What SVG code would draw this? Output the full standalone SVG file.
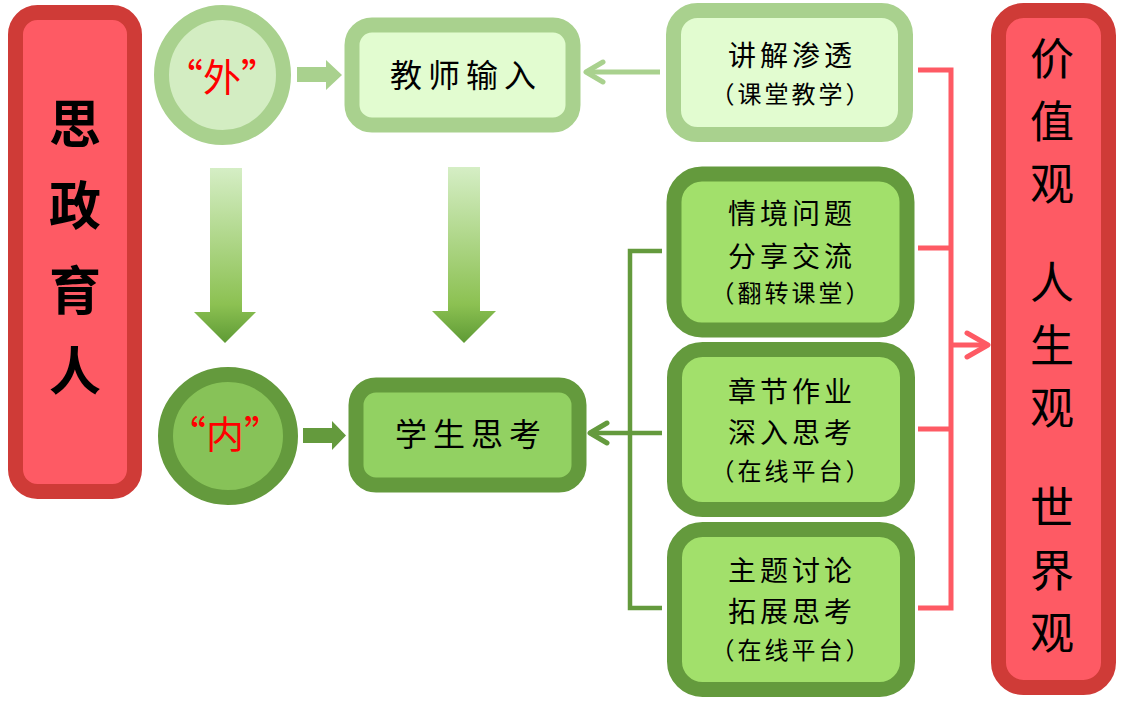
<svg xmlns="http://www.w3.org/2000/svg" width="1124" height="702" viewBox="0 0 1124 702">
<style>
text{font-family:"Noto Sans CJK SC","Noto Sans",sans-serif;text-anchor:middle;fill:#000}
.big{font-size:52px;font-weight:bold}
.q{font-size:38px;fill:#ff0000}
.t32{font-size:32px;letter-spacing:6px}
.t28{font-size:28px;letter-spacing:4px}
.t24{font-size:24px;letter-spacing:3px}
.v{font-size:44px}
.redbox{fill:#fe5a64;stroke:#cf3b37;stroke-width:15}
.lightbox{fill:#e2fcd0;stroke:#a9d18e;stroke-width:15}
.darkbox{fill:#a2e06b;stroke:#649a3d;stroke-width:15}
</style>
<defs>
<linearGradient id="down" x1="0" y1="0" x2="0" y2="1">
<stop offset="0" stop-color="#d5eec5"/>
<stop offset="0.78" stop-color="#8cc152"/>
<stop offset="1" stop-color="#5e9a35"/>
</linearGradient>
<marker id="arrLight" markerUnits="userSpaceOnUse" markerWidth="24" markerHeight="28" viewBox="0 0 24 28" refX="21" refY="14" orient="auto">
<path d="M4,4 L21,14 L4,24" fill="none" stroke="#a9d18e" stroke-width="5" stroke-linecap="round" stroke-linejoin="round"/>
</marker>
<marker id="arrDark" markerUnits="userSpaceOnUse" markerWidth="24" markerHeight="28" viewBox="0 0 24 28" refX="21" refY="14" orient="auto">
<path d="M4,4 L21,14 L4,24" fill="none" stroke="#649a3d" stroke-width="5" stroke-linecap="round" stroke-linejoin="round"/>
</marker>
<marker id="arrRed" markerUnits="userSpaceOnUse" markerWidth="28" markerHeight="32" viewBox="0 0 28 32" refX="25" refY="16" orient="auto">
<path d="M4,4 L25,16 L4,28" fill="none" stroke="#fe5a64" stroke-width="5" stroke-linecap="round" stroke-linejoin="round"/>
</marker>
</defs>
<rect width="1124" height="702" fill="#ffffff"/>

<g id="connectors">
<path d="M297,67 H326 V60 L342,75 L326,90 V82 H297 Z" fill="#a9d18e"/>
<path d="M303,428 H332 V421 L346,435.5 L332,450 V443 H303 Z" fill="#649a3d"/>
<path d="M210,168 H242 V312 H256 L225,343 L194,312 H210 Z" fill="url(#down)"/>
<path d="M448,167 H480 V311 H496 L464,343 L432,311 H448 Z" fill="url(#down)"/>
<path d="M660,72 H586" fill="none" stroke="#a9d18e" stroke-width="5" marker-end="url(#arrLight)"/>
<path d="M662,251 H630 V608 H662" fill="none" stroke="#649a3d" stroke-width="4.5"/>
<path d="M662,433 H590" fill="none" stroke="#649a3d" stroke-width="4.5" marker-end="url(#arrDark)"/>
<path d="M918,70 H951 V608 H918 M918,248 H951 M918,429 H951" fill="none" stroke="#fe5a64" stroke-width="5"/>
<path d="M951,345 H988" fill="none" stroke="#fe5a64" stroke-width="5" marker-end="url(#arrRed)"/>
</g>

<g id="node-sizheng">
<rect class="redbox" x="15.5" y="12.5" width="119" height="479" rx="22"/>
<text class="big" x="75" y="143">思</text>
<text class="big" x="75" y="225">政</text>
<text class="big" x="75" y="310">育</text>
<text class="big" x="75" y="390">人</text>
</g>

<g id="node-wai">
<ellipse cx="222.5" cy="75" rx="61" ry="62.5" fill="#d3edc2" stroke="#a9d18e" stroke-width="15"/>
<text class="q" x="222" y="91">“外”</text>
</g>

<g id="node-jiaoshi">
<rect class="lightbox" x="352" y="25" width="221" height="100" rx="20"/>
<text class="t32" x="466" y="87">教师输入</text>
</g>

<g id="node-jiangjie">
<rect class="lightbox" x="673.5" y="10.5" width="232" height="124" rx="24"/>
<text class="t28" x="792" y="66">讲解渗透</text>
<text class="t24" x="791.5" y="103">（课堂教学）</text>
</g>

<g id="node-qingjing">
<rect class="darkbox" x="674" y="174" width="233" height="156" rx="28"/>
<text class="t28" x="792" y="224">情境问题</text>
<text class="t28" x="792" y="267">分享交流</text>
<text class="t24" x="791.5" y="302">（翻转课堂）</text>
</g>

<g id="node-zhangjie">
<rect class="darkbox" x="674.5" y="349.5" width="233" height="160" rx="28"/>
<text class="t28" x="792" y="402">章节作业</text>
<text class="t28" x="792" y="443">深入思考</text>
<text class="t24" x="791.5" y="480">（在线平台）</text>
</g>

<g id="node-zhuti">
<rect class="darkbox" x="674.5" y="529.5" width="233" height="160" rx="28"/>
<text class="t28" x="792" y="581">主题讨论</text>
<text class="t28" x="792" y="622">拓展思考</text>
<text class="t24" x="791.5" y="659">（在线平台）</text>
</g>

<g id="node-xuesheng">
<rect x="356" y="385" width="223" height="100" rx="20" fill="#92d162" stroke="#649a3d" stroke-width="15"/>
<text class="t32" x="471" y="446">学生思考</text>
</g>

<g id="node-nei">
<ellipse cx="228" cy="436" rx="62.5" ry="61.5" fill="#87c258" stroke="#649a3d" stroke-width="15"/>
<text class="q" x="225" y="448">“内”</text>
</g>

<g id="node-values">
<rect class="redbox" x="998.5" y="10.5" width="110" height="677" rx="25"/>
<text class="v" x="1052" y="75">价</text>
<text class="v" x="1052" y="138">值</text>
<text class="v" x="1052" y="200">观</text>
<text class="v" x="1052" y="299">人</text>
<text class="v" x="1052" y="362">生</text>
<text class="v" x="1052" y="424">观</text>
<text class="v" x="1052" y="524">世</text>
<text class="v" x="1052" y="587">界</text>
<text class="v" x="1052" y="649">观</text>
</g>
</svg>
